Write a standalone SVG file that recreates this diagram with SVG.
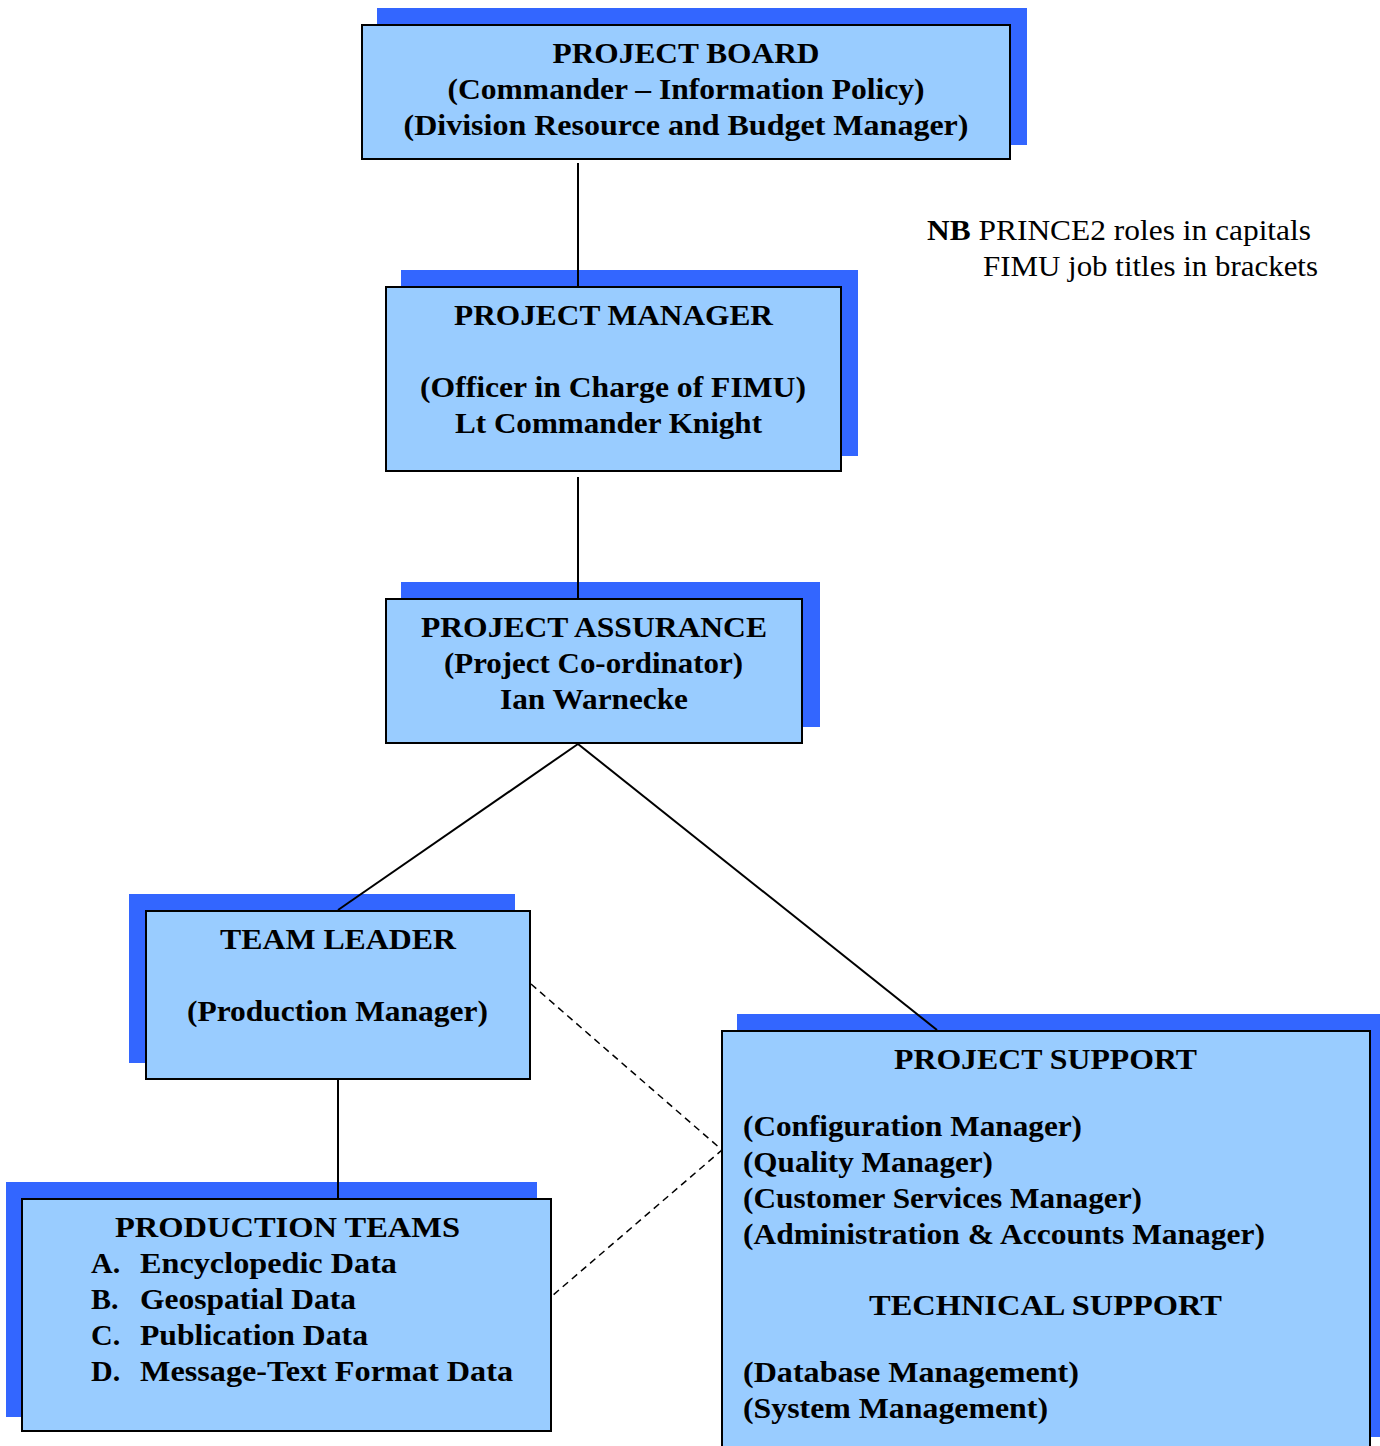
<svg xmlns="http://www.w3.org/2000/svg" width="1380" height="1446" viewBox="0 0 1380 1446">
<style>
.sh{fill:#3366FF;stroke:none}
.bx{fill:#99CCFF;stroke:#000;stroke-width:2}
.t{font-family:"Liberation Serif","Times New Roman",serif;font-weight:bold;font-size:30px;fill:#000}
.c{text-anchor:middle}
.n{font-family:"Liberation Serif","Times New Roman",serif;font-size:30px;fill:#000}
.ln{stroke:#000;stroke-width:2;fill:none}
.dl{stroke:#000;stroke-width:1.5;fill:none;stroke-dasharray:7,5}
</style>
<rect width="1380" height="1446" fill="#fff"/>
<g id="project-board">
<rect class="sh" x="377" y="8" width="650" height="137"/>
<rect class="bx" x="362" y="25" width="648" height="134"/>
<text class="t c" x="686" y="63" textLength="267" lengthAdjust="spacingAndGlyphs">PROJECT BOARD</text>
<text class="t c" x="686" y="99" textLength="477" lengthAdjust="spacingAndGlyphs">(Commander – Information Policy)</text>
<text class="t c" x="686" y="135" textLength="565" lengthAdjust="spacingAndGlyphs">(Division Resource and Budget Manager)</text>
</g>
<g id="note">
<text class="n" x="927" y="240" textLength="384" lengthAdjust="spacingAndGlyphs"><tspan font-weight="bold">NB</tspan> PRINCE2 roles in capitals</text>
<text class="n" x="983" y="276" textLength="335" lengthAdjust="spacingAndGlyphs">FIMU job titles in brackets</text>
</g>
<g id="project-manager">
<rect class="sh" x="401" y="270" width="457" height="186"/>
<rect class="bx" x="386" y="287" width="455" height="184"/>
<text class="t c" x="613.5" y="325" textLength="319" lengthAdjust="spacingAndGlyphs">PROJECT MANAGER</text>
<text class="t c" x="613" y="397" textLength="386" lengthAdjust="spacingAndGlyphs">(Officer in Charge of FIMU)</text>
<text class="t c" x="608.5" y="433" textLength="307" lengthAdjust="spacingAndGlyphs">Lt Commander Knight</text>
</g>
<g id="project-assurance">
<rect class="sh" x="401" y="582" width="419" height="145"/>
<rect class="bx" x="386" y="599" width="416" height="144"/>
<text class="t c" x="594" y="637" textLength="346" lengthAdjust="spacingAndGlyphs">PROJECT ASSURANCE</text>
<text class="t c" x="593.5" y="673" textLength="299" lengthAdjust="spacingAndGlyphs">(Project Co-ordinator)</text>
<text class="t c" x="594" y="709" textLength="188" lengthAdjust="spacingAndGlyphs">Ian Warnecke</text>
</g>
<g id="team-leader">
<rect class="sh" x="129" y="894" width="386" height="169"/>
<rect class="bx" x="146" y="911" width="384" height="168"/>
<text class="t c" x="338" y="949" textLength="236" lengthAdjust="spacingAndGlyphs">TEAM LEADER</text>
<text class="t c" x="337.5" y="1021" textLength="301" lengthAdjust="spacingAndGlyphs">(Production Manager)</text>
</g>
<g id="production-teams">
<rect class="sh" x="6" y="1182" width="531" height="235"/>
<rect class="bx" x="22" y="1199" width="529" height="232"/>
<text class="t c" x="287.5" y="1237" textLength="345" lengthAdjust="spacingAndGlyphs">PRODUCTION TEAMS</text>
<text class="t" x="91" y="1273">A.</text>
<text class="t" x="140" y="1273" textLength="257" lengthAdjust="spacingAndGlyphs">Encyclopedic Data</text>
<text class="t" x="91" y="1309">B.</text>
<text class="t" x="140" y="1309" textLength="216" lengthAdjust="spacingAndGlyphs">Geospatial Data</text>
<text class="t" x="91" y="1345">C.</text>
<text class="t" x="140" y="1345" textLength="228" lengthAdjust="spacingAndGlyphs">Publication Data</text>
<text class="t" x="91" y="1381">D.</text>
<text class="t" x="140" y="1381" textLength="373" lengthAdjust="spacingAndGlyphs">Message-Text Format Data</text>
</g>
<g id="project-support">
<rect class="sh" x="737" y="1014" width="645" height="423"/>
<rect class="bx" x="722" y="1031" width="648" height="430"/>
<text class="t c" x="1045.5" y="1069" textLength="303" lengthAdjust="spacingAndGlyphs">PROJECT SUPPORT</text>
<text class="t" x="743" y="1136" textLength="339" lengthAdjust="spacingAndGlyphs">(Configuration Manager)</text>
<text class="t" x="743" y="1172" textLength="250" lengthAdjust="spacingAndGlyphs">(Quality Manager)</text>
<text class="t" x="743" y="1208" textLength="399" lengthAdjust="spacingAndGlyphs">(Customer Services Manager)</text>
<text class="t" x="743" y="1244" textLength="522" lengthAdjust="spacingAndGlyphs">(Administration &amp; Accounts Manager)</text>
<text class="t c" x="1045.5" y="1315" textLength="353" lengthAdjust="spacingAndGlyphs">TECHNICAL SUPPORT</text>
<text class="t" x="743" y="1382" textLength="336" lengthAdjust="spacingAndGlyphs">(Database Management)</text>
<text class="t" x="743" y="1418" textLength="305" lengthAdjust="spacingAndGlyphs">(System Management)</text>
</g>
<g id="connectors">
<line class="ln" x1="578" y1="163" x2="578" y2="286"/>
<line class="ln" x1="578" y1="477" x2="578" y2="598"/>
<line class="ln" x1="578" y1="744" x2="338" y2="910"/>
<line class="ln" x1="578" y1="744" x2="937" y2="1030"/>
<line class="ln" x1="338" y1="1080" x2="338" y2="1198"/>
<polyline class="dl" points="531,984 722,1150 552,1296"/>
</g>
</svg>
